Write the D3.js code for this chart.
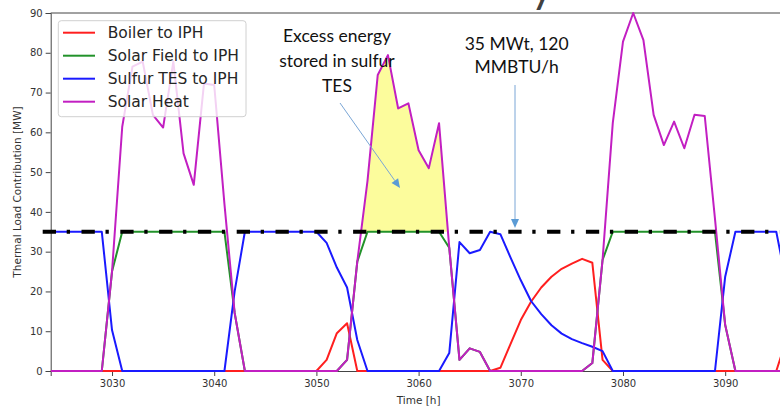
<!DOCTYPE html>
<html>
<head>
<meta charset="utf-8">
<script src="https://cdn.jsdelivr.net/npm/d3@7"></script>
<style>
  html, body { margin: 0; padding: 0; background: #ffffff; }
  svg { display: block; }
  .tick text { font-family: "DejaVu Sans", sans-serif; font-size: 10px; fill: #333; }
  .tick line { stroke: #444; }
</style>
</head>
<body>
<svg id="chart" width="780" height="407"></svg>
<script>
// Hourly thermal load contributions, hours 3024..3096
const hours = d3.range(3024, 3097);

const boilerToIPH = [
  0, 0, 0, 0, 0, 0,                                        // 3024-3029
  0, 0, 0, 0, 0, 0, 0, 0, 0, 0,                            // 3030-3039
  0, 0, 0, 0, 0, 0, 0, 0, 0, 0,                            // 3040-3049
  0, 2.8, 9.5, 12, 0, 0, 0, 0, 0, 0,                       // 3050-3059
  0, 0, 0, 0, 0, 0, 0, 0, 0.8, 6.8,                        // 3060-3069
  12.8, 17.4, 21, 23.7, 25.7, 27, 28.2, 27.2, 2.8, 0,      // 3070-3079
  0, 0, 0, 0, 0, 0, 0, 0, 0, 0,                            // 3080-3089
  0, 0, 0, 0, 0, 0, 8                                      // 3090-3096
];

const solarFieldToIPH = [
  0, 0, 0, 0, 0, 0,
  25, 35, 35, 35, 35, 35, 35, 35, 35, 35,
  35, 35, 14.6, 0, 0, 0, 0, 0, 0, 0,
  0, 0, 0, 2.8, 27.5, 35, 35, 35, 35, 35,
  35, 35, 35, 31, 2.8, 5.7, 4.8, 0, 0, 0,
  0, 0, 0, 0, 0, 0, 0, 2, 27.9, 35,
  35, 35, 35, 35, 35, 35, 35, 35, 35, 35,
  11.6, 0, 0, 0, 0, 0, 0
];

const sulfurTESToIPH = [
  35, 35, 35, 35, 35, 35,
  10.3, 0, 0, 0, 0, 0, 0, 0, 0, 0,
  0, 0, 20, 35, 35, 35, 35, 35, 35, 35,
  35, 32.2, 26, 21, 7.8, 0, 0, 0, 0, 0,
  0, 0, 0, 4.5, 32.4, 29.6, 30.4, 35, 34.4, 28.5,
  22.8, 17.6, 14.3, 11.5, 9.4, 8, 7, 6.1, 5, 0,
  0, 0, 0, 0, 0, 0, 0, 0, 0, 0,
  23.7, 35, 35, 35, 35, 35, 22
];

const solarHeat = [
  0, 0, 0, 0, 0, 0,
  25, 61.4, 76.5, 77.8, 64.4, 61.2, 77.8, 54.7, 46.8, 72.3,
  71.9, 42, 14.6, 0, 0, 0, 0, 0, 0, 0,
  0, 0, 0, 2.8, 27.5, 47.8, 74.4, 79.4, 66, 67.3,
  55.5, 51, 62.3, 31, 2.8, 5.7, 4.8, 0, 0, 0,
  0, 0, 0, 0, 0, 0, 0, 2, 27.9, 62.3,
  82.8, 90, 83.2, 64.4, 56.8, 62.7, 56, 64.4, 64.1, 38.3,
  11.6, 0, 0, 0, 0, 0, 0
];

const seriesNames = ["Boiler to IPH", "Solar Field to IPH", "Sulfur TES to IPH", "Solar Heat"];
const seriesColors = ["#ff1f1f", "#22922a", "#1a1aff", "#c21fc2"];
const seriesValues = [boilerToIPH, solarFieldToIPH, sulfurTESToIPH, solarHeat];

const yTicks = [0, 10, 20, 30, 40, 50, 60, 70, 80, 90];
const xTicks = [3030, 3040, 3050, 3060, 3070, 3080, 3090];

const designLoad = 35;                 // 35 MWt design load
const excessWindow = [3054, 3063];     // day whose surplus is highlighted

const svg = d3.select("#chart");
const x = d3.scaleLinear().domain([3024, 3096]).range([50.7, 786.5]);
const y = d3.scaleLinear().domain([0, 90]).range([371, 13]);

svg.append("defs").append("clipPath").attr("id", "plotClip")
  .append("rect")
  .attr("x", x(3024)).attr("y", y(90) - 1)
  .attr("width", x(3096) - x(3024)).attr("height", y(0) - y(90) + 2);

// slide heading above the figure (only its descender falls inside the frame)
svg.append("text")
  .attr("x", 542).attr("y", 1.5).attr("text-anchor", "middle")
  .style("font-family", "Lato, sans-serif").style("font-size", "44px").style("fill", "#404040")
  .text("y");

// surplus solar heat above the design load, stored in the sulfur TES
const excessPts = [];
for (let i = 0; i < hours.length - 1; i++) {
  const t0 = hours[i], t1 = hours[i + 1];
  if (t1 <= excessWindow[0] || t0 >= excessWindow[1]) continue;
  const v0 = solarHeat[i], v1 = solarHeat[i + 1];
  if (v0 >= designLoad) excessPts.push([t0, v0]);
  if ((v0 - designLoad) * (v1 - designLoad) < 0) {
    const tc = t0 + (designLoad - v0) / (v1 - v0);
    excessPts.push([tc, designLoad]);
  }
}
svg.append("path")
  .datum(excessPts)
  .attr("fill", "#fcfc9c")
  .attr("d", d3.area().x(d => x(d[0])).y0(y(designLoad)).y1(d => y(d[1])));

// axes frame
const frame = svg.append("g");
frame.append("line").attr("x1", x(3024)).attr("x2", x(3096)).attr("y1", y(90)).attr("y2", y(90))
  .attr("stroke", "#444").attr("stroke-width", 1);
frame.append("line").attr("x1", x(3096)).attr("x2", x(3096)).attr("y1", y(90)).attr("y2", y(0))
  .attr("stroke", "#444").attr("stroke-width", 1);

const gx = svg.append("g").attr("transform", `translate(0,${y(0)})`)
  .call(d3.axisBottom(x).tickValues(xTicks).tickFormat(d3.format("d")).tickSize(5).tickPadding(3.5));
const gy = svg.append("g").attr("transform", `translate(${x(3024)},0)`)
  .call(d3.axisLeft(y).tickValues(yTicks).tickSize(5).tickPadding(3));
[gx, gy].forEach(g => g.select(".domain").attr("stroke", "#444"));

svg.append("text")
  .attr("x", (x(3024) + x(3096)) / 2).attr("y", 404)
  .attr("text-anchor", "middle")
  .style("font-family", "DejaVu Sans, sans-serif").style("font-size", "10.5px").style("fill", "#333")
  .text("Time [h]");
svg.append("text")
  .attr("transform", `translate(17,${(y(0) + y(90)) / 2}) rotate(-90)`)
  .attr("text-anchor", "middle").attr("dominant-baseline", "central")
  .style("font-family", "DejaVu Sans, sans-serif").style("font-size", "10.5px").style("fill", "#333")
  .text("Thermal Load Contribution [MW]");

// series lines
const line = d3.line().x((d, i) => x(hours[i])).y(d => y(d));
const lines = svg.append("g").attr("clip-path", "url(#plotClip)");
seriesValues.forEach((vals, k) => {
  lines.append("path").datum(vals)
    .attr("fill", "none").attr("stroke", seriesColors[k])
    .attr("stroke-width", 2).attr("stroke-linejoin", "round")
    .attr("d", line);
});

// design load line
svg.append("line")
  .attr("x1", x(3024) - 8).attr("x2", 800)
  .attr("y1", y(designLoad)).attr("y2", y(designLoad))
  .attr("stroke", "#000").attr("stroke-width", 4)
  .attr("stroke-dasharray", "13.3 10.7 3.3 11.5");

// legend
const legend = svg.append("g");
legend.append("rect")
  .attr("x", 58.3).attr("y", 20.7).attr("width", 187.7).attr("height", 96)
  .attr("rx", 3).attr("fill", "#fff").attr("fill-opacity", 0.8)
  .attr("stroke", "#d0d0d0").attr("stroke-width", 1);
seriesNames.forEach((name, k) => {
  const yy = 32.7 + k * 23;
  legend.append("line").attr("x1", 63).attr("x2", 95).attr("y1", yy).attr("y2", yy)
    .attr("stroke", seriesColors[k]).attr("stroke-width", 2);
  legend.append("text").attr("x", 107.7).attr("y", yy)
    .attr("dominant-baseline", "central")
    .style("font-family", "DejaVu Sans, sans-serif").style("font-size", "15.5px").style("fill", "#262626")
    .text(name);
});

// annotations
const noteFont = "Lato, 'Open Sans', sans-serif";
[["Excess energy", 35], ["stored in sulfur", 60], ["TES", 85]].forEach(([s, yy]) => {
  svg.append("text").attr("x", 337).attr("y", yy).attr("text-anchor", "middle")
    .attr("dominant-baseline", "central")
    .style("font-family", noteFont).style("font-size", "17.5px").style("fill", "#111")
    .text(s);
});
[["35 MWt, 120", 43.3], ["MMBTU/h", 66.7]].forEach(([s, yy]) => {
  svg.append("text").attr("x", 516.7).attr("y", yy).attr("text-anchor", "middle")
    .attr("dominant-baseline", "central")
    .style("font-family", noteFont).style("font-size", "17.5px").style("fill", "#111")
    .text(s);
});

function arrow(x1, y1, x2, y2) {
  const a = Math.atan2(y2 - y1, x2 - x1), L = 9, W = 4;
  const bx = x2 - L * Math.cos(a), by = y2 - L * Math.sin(a);
  svg.append("line").attr("x1", x1).attr("y1", y1).attr("x2", bx).attr("y2", by)
    .attr("stroke", "#7aa6d6").attr("stroke-width", 1);
  const px = -Math.sin(a) * W, py = Math.cos(a) * W;
  svg.append("path")
    .attr("d", `M${x2},${y2}L${bx + px},${by + py}L${bx - px},${by - py}Z`)
    .attr("fill", "#5b9bd5");
}
arrow(340, 103, 400, 188);
arrow(515, 85, 515, 228);
</script>
</body>
</html>
